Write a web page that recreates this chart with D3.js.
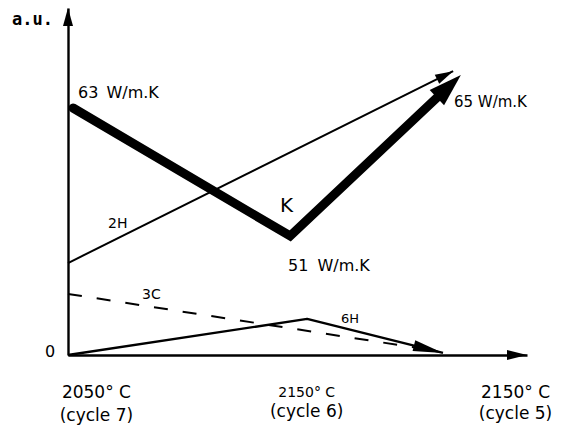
<!DOCTYPE html>
<html>
<head>
<meta charset="utf-8">
<script src="https://cdn.jsdelivr.net/npm/d3@7"></script>
<style>
  html, body { margin: 0; padding: 0; background: #fff; }
  svg { display: block; }
  text { font-family: "DejaVu Sans", sans-serif; fill: #000; }
</style>
</head>
<body>
<svg id="chart" width="563" height="430"></svg>
<script>
// Temperature steps along the horizontal axis
const stepTemps  = ["2050° C", "2150° C", "2150° C"];
const stepCycles = ["(cycle 7)", "(cycle 6)", "(cycle 5)"];
const stepX      = [0.62, 5.2, 9.75];

// Thermal conductivity K (W/m.K) at the three stages
const kX      = [0.11, 4.84, 8.29];
const kValues = [63, 51, 65];
const kLabels = ["63 W/m.K", "51 W/m.K", "65 W/m.K"];

// Relative intensities (a.u.) of the 2H, 3C and 6H polytypes
const h2X = [0, 8.39];
const h2Y = [2.65, 8.18];
const c3X = [0, 7.78];
const c3Y = [1.76, 0.17];
const h6X = [0, 5.21, 8.17];
const h6Y = [0, 1.04, 0.06];

const svg = d3.select("#chart");

const x  = d3.scaleLinear().domain([0, 10]).range([68, 527]);
const y  = d3.scaleLinear().domain([0, 10]).range([355, 8]);
const yK = d3.scaleLinear().domain([51, 63]).range([236, 108]);

// Axes: plain lines without ticks, each ending in an arrowhead
const xAxis = svg.append("g").attr("transform", `translate(0,${y(0)})`)
  .call(d3.axisBottom(x).tickValues([]).tickSizeOuter(0));
const yAxis = svg.append("g").attr("transform", `translate(${x(0)},0)`)
  .call(d3.axisLeft(y).tickValues([]).tickSizeOuter(0));
[xAxis, yAxis].forEach(g => g.select(".domain")
  .attr("stroke", "#000").attr("stroke-width", 2.4));

// Filled triangle whose tip lies `over` px past (x2,y2) along the segment direction
function arrowHead(x1, y1, x2, y2, len, width, over) {
  const dx = x2 - x1, dy = y2 - y1, d = Math.hypot(dx, dy);
  const ux = dx / d, uy = dy / d;
  const tx = x2 + ux * over, ty = y2 + uy * over;
  const bx = tx - ux * len, by = ty - uy * len;
  const px = -uy * width / 2, py = ux * width / 2;
  svg.append("path")
    .attr("d", `M${tx},${ty}L${bx + px},${by + py}L${bx - px},${by - py}Z`)
    .attr("fill", "#000");
}

arrowHead(x(0), y(0), x(10), y(0), 20, 10, 0);
arrowHead(x(0), y(0), x(0), y(10), 18, 10, 0);

const line = d3.line();

// 3C (dashed)
svg.append("path")
  .attr("d", line(c3X.map((v, i) => [x(v), y(c3Y[i])])))
  .attr("fill", "none").attr("stroke", "#000")
  .attr("stroke-width", 2).attr("stroke-dasharray", "14,15");

// 6H
const h6Pts = h6X.map((v, i) => [x(v), y(h6Y[i])]);
svg.append("path").attr("d", line(h6Pts))
  .attr("fill", "none").attr("stroke", "#000").attr("stroke-width", 2.4)
  .attr("stroke-linejoin", "round");
arrowHead(...h6Pts[1], ...h6Pts[2], 30, 11, 0);

// 2H
const h2Pts = h2X.map((v, i) => [x(v), y(h2Y[i])]);
svg.append("path").attr("d", line(h2Pts))
  .attr("fill", "none").attr("stroke", "#000").attr("stroke-width", 2);
arrowHead(...h2Pts[0], ...h2Pts[1], 18, 10, 0);

// K (thick)
const kPts = kX.map((v, i) => [x(v), yK(kValues[i])]);
svg.append("path").attr("d", line(kPts))
  .attr("fill", "none").attr("stroke", "#000").attr("stroke-width", 9)
  .attr("stroke-linecap", "round").attr("stroke-linejoin", "miter");
arrowHead(...kPts[1], ...kPts[2], 33, 21, 17);

// Text labels
function label(txt, px, py, size) {
  return svg.append("text").attr("x", px).attr("y", py)
    .attr("font-size", size).text(txt);
}

label("a.u.", 12, 25, 17)
  .style("font-family", "'DejaVu Sans Mono', monospace")
  .attr("font-weight", "bold");
label("0", 45, 357, 16);

label(kLabels[0], 78, 98, 16).attr("word-spacing", 3);
label(kLabels[1], 288, 271, 16).attr("word-spacing", 4);
label(kLabels[2], 454, 107, 15);
label("K", 280, 212, 20);

label("2H", 108, 228, 14);
label("3C", 142, 299, 14);
label("6H", 341, 323, 13);

const tempSize = [17, 14, 17];
const tempY  = [398, 397, 398];
const cycleY = [421, 417, 419];
stepTemps.forEach((s, i) => {
  label(s, x(stepX[i]), tempY[i], tempSize[i]).attr("text-anchor", "middle");
  label(stepCycles[i], x(stepX[i]), cycleY[i], 17).attr("text-anchor", "middle");
});
</script>
</body>
</html>
